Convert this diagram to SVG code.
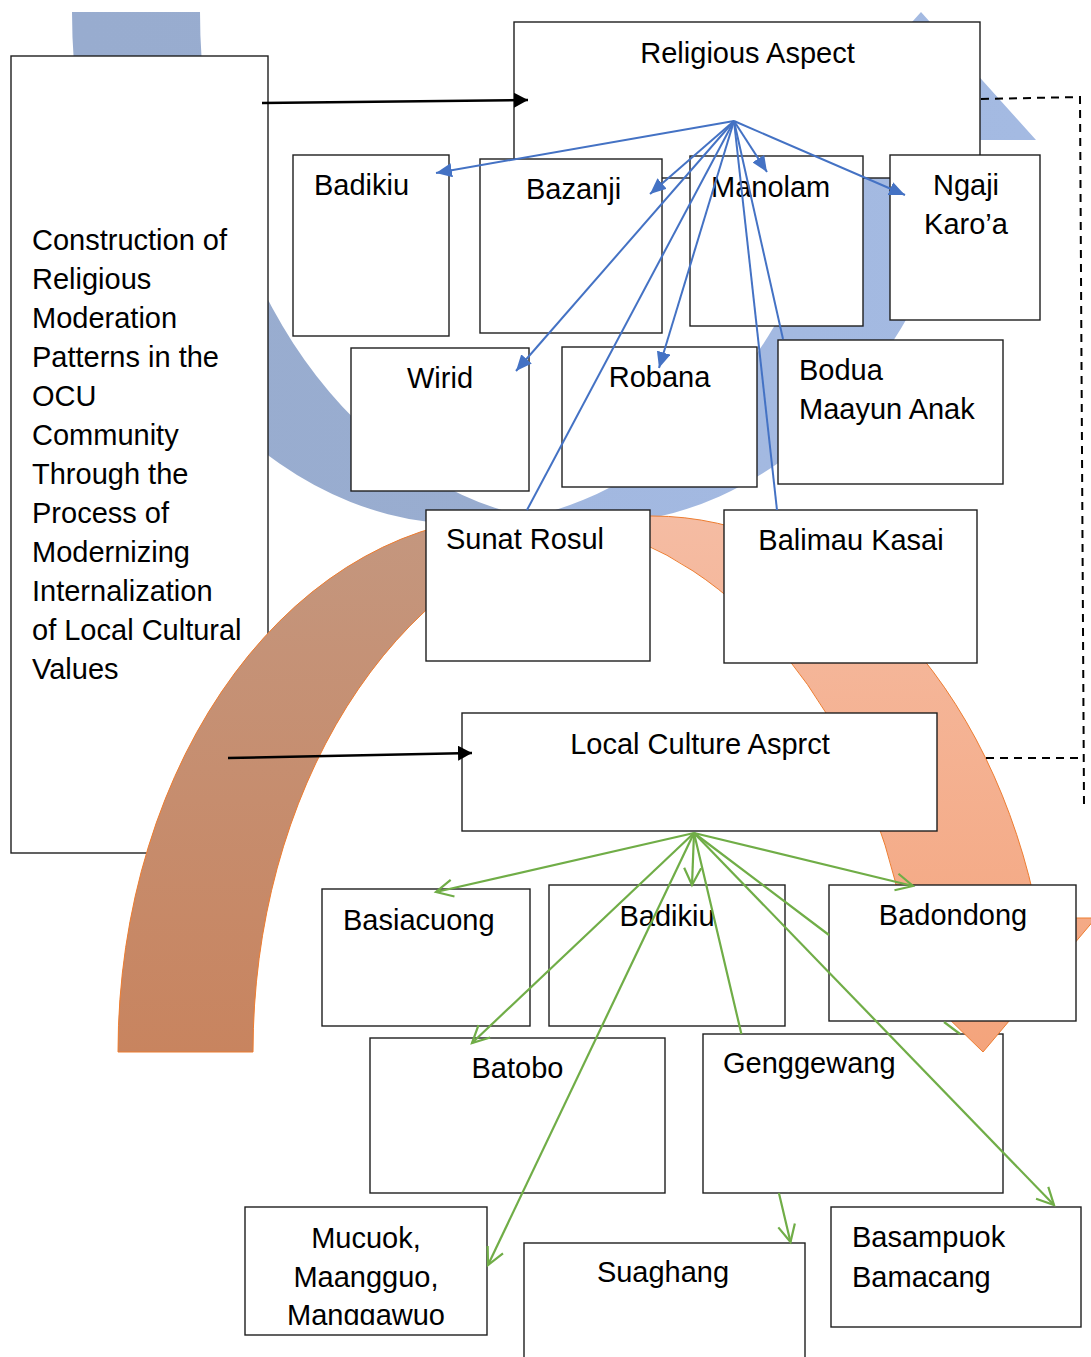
<svg xmlns="http://www.w3.org/2000/svg" width="1091" height="1357" viewBox="0 0 1091 1357">
<defs>
<style>
.box{fill:#fff;stroke:#1e1e1e;stroke-width:1.4}
.t{font-family:"Liberation Sans",Arial,sans-serif;font-size:29px;fill:#000}
.m{text-anchor:middle}
.cb{fill:none;stroke:#4472C4;stroke-width:2}
.cg{fill:none;stroke:#70AD47;stroke-width:2.2}
.ck{fill:none;stroke:#000;stroke-width:2.4}
.cd{fill:none;stroke:#000;stroke-width:2;stroke-dasharray:8 6}
</style>
<linearGradient id="gBlue" gradientUnits="userSpaceOnUse" x1="72" y1="0" x2="1036" y2="0">
<stop offset="0" stop-color="#98ACCF"/><stop offset="0.476" stop-color="#99ADD0"/><stop offset="0.476" stop-color="#A2B8E0"/><stop offset="1" stop-color="#A4BAE2"/>
</linearGradient>
<linearGradient id="gOr" gradientUnits="userSpaceOnUse" x1="0" y1="516" x2="0" y2="1052">
<stop offset="0" stop-color="#F5BCA3"/><stop offset="1" stop-color="#F4A47C"/>
</linearGradient>
<linearGradient id="gOrD" gradientUnits="userSpaceOnUse" x1="0" y1="516" x2="0" y2="1052">
<stop offset="0" stop-color="#C4977F"/><stop offset="1" stop-color="#C8845F"/>
</linearGradient>
<marker id="ab" markerUnits="userSpaceOnUse" viewBox="0 0 18 14" markerWidth="18" markerHeight="14" refX="16" refY="7" orient="auto"><path d="M0,0 L16,7 L0,14 Z" fill="#4472C4"/></marker>
<marker id="ag" markerUnits="userSpaceOnUse" viewBox="0 0 22 20" markerWidth="22" markerHeight="20" refX="19" refY="10" orient="auto" overflow="visible"><path d="M2,1.5 L19,10 L2,18.5" fill="none" stroke="#70AD47" stroke-width="2.2"/></marker>
<marker id="ak" markerUnits="userSpaceOnUse" viewBox="0 0 16 16" markerWidth="16" markerHeight="16" refX="14" refY="7.5" orient="auto"><path d="M0,0 L14,7.5 L0,15 Z" fill="#000"/></marker>
<clipPath id="clipMuc"><rect x="245" y="1207" width="242" height="118"/></clipPath>
</defs>

<g id="blue-curved-arrow">
<path d="M72,12 A392.5,512 0 0 0 464.5,524 L592.5,524 A392.5,512 0 0 0 972.5,140 L1036,140 L921,12 L806,140 L844.5,140 A392.5,512 0 0 1 528.5,517.1 A392.5,512 0 0 1 200,12 Z" fill="url(#gBlue)"/>
</g>

<g id="n-construction">
<rect class="box" x="11" y="56" width="257" height="797"/>
<text class="t" x="32" y="249.5">Construction of</text>
<text class="t" x="32" y="288.5">Religious</text>
<text class="t" x="32" y="327.5">Moderation</text>
<text class="t" x="32" y="366.5">Patterns in the</text>
<text class="t" x="32" y="405.5">OCU</text>
<text class="t" x="32" y="444.5">Community</text>
<text class="t" x="32" y="483.5">Through the</text>
<text class="t" x="32" y="522.5">Process of</text>
<text class="t" x="32" y="561.5">Modernizing</text>
<text class="t" x="32" y="600.5">Internalization</text>
<text class="t" x="32" y="639.5">of Local Cultural</text>
<text class="t" x="32" y="678.5">Values</text>
</g>

<g id="n-genggewang"><rect class="box" x="703" y="1034" width="300" height="159"/><text class="t" x="723" y="1073">Genggewang</text></g>

<g id="orange-curved-arrow">
<path d="M118,1052 A399,536 0 0 1 517,516 L652,516 A399,536 0 0 1 1038.3,918 L1095.8,918 L983,1052 L845.8,918 L903.3,918 A399,536 0 0 0 584.5,523.7 A399,536 0 0 0 253,1052 Z" fill="url(#gOr)"/>
<path d="M118,1052 A399,536 0 0 1 517,516 L584.5,523.7 A399,536 0 0 0 253,1052 Z" fill="url(#gOrD)"/>
<path d="M118,1052 A399,536 0 0 1 517,516 L652,516 A399,536 0 0 1 1038.3,918 L1095.8,918 L983,1052 L845.8,918 L903.3,918 A399,536 0 0 0 584.5,523.7 A399,536 0 0 0 253,1052 Z" fill="none" stroke="#ED7D31" stroke-width="1"/>
</g>

<g id="n-religious"><rect class="box" x="514" y="22" width="466" height="156"/><text class="t m" x="747.5" y="63">Religious Aspect</text></g>
<g id="n-badikiu1"><rect class="box" x="293" y="155" width="156" height="181"/><text class="t" x="314" y="195">Badikiu</text></g>
<g id="n-bazanji"><rect class="box" x="480" y="159" width="182" height="174"/><text class="t" x="526" y="199">Bazanji</text></g>
<g id="n-manolam"><rect class="box" x="690" y="156" width="173" height="170"/><text class="t" x="711" y="197">Manolam</text></g>
<g id="n-ngaji"><rect class="box" x="890" y="155" width="150" height="165"/><text class="t m" x="966" y="195">Ngaji</text><text class="t m" x="966" y="234">Karo’a</text></g>
<g id="n-wirid"><rect class="box" x="351" y="348" width="178" height="143"/><text class="t m" x="440" y="388">Wirid</text></g>
<g id="n-robana"><rect class="box" x="562" y="347" width="195" height="140"/><text class="t m" x="659.5" y="387">Robana</text></g>
<g id="n-bodua"><rect class="box" x="778" y="340" width="225" height="144"/><text class="t" x="799" y="380">Bodua</text><text class="t" x="799" y="418.5">Maayun Anak</text></g>
<g id="n-sunat"><rect class="box" x="426" y="510" width="224" height="151"/><text class="t" x="446" y="549">Sunat Rosul</text></g>
<g id="n-balimau"><rect class="box" x="724" y="510" width="253" height="153"/><text class="t m" x="851" y="550">Balimau Kasai</text></g>
<g id="n-local"><rect class="box" x="462" y="713" width="475" height="118"/><text class="t m" x="700" y="754">Local Culture Asprct</text></g>
<g id="n-basiacuong"><rect class="box" x="322" y="889" width="208" height="137"/><text class="t" x="343" y="930">Basiacuong</text></g>
<g id="n-badikiu2"><rect class="box" x="549" y="885" width="236" height="141"/><text class="t m" x="667" y="926">Badikiu</text></g>
<g id="n-badondong"><rect class="box" x="829" y="885" width="247" height="136"/><text class="t m" x="953" y="925">Badondong</text></g>
<g id="n-batobo"><rect class="box" x="370" y="1038" width="295" height="155"/><text class="t m" x="517.5" y="1078">Batobo</text></g>
<g id="n-mucuok"><rect class="box" x="245" y="1207" width="242" height="128"/>
<g clip-path="url(#clipMuc)"><text class="t m" x="366" y="1248">Mucuok,</text><text class="t m" x="366" y="1287">Maangguo,</text><text class="t m" x="366" y="1325">Manggawuo</text></g></g>
<g id="n-suaghang"><rect class="box" x="524" y="1243" width="281" height="130"/><text class="t m" x="663" y="1282">Suaghang</text></g>
<g id="n-basampuok"><rect class="box" x="831" y="1207" width="250" height="120"/><text class="t" x="852" y="1247">Basampuok</text><text class="t" x="852" y="1287">Bamacang</text></g>

<g id="connectors">
<path class="cd" d="M981,99 L1080,97 L1084,805 M986,758 L1084,758"/>
<path class="ck" d="M262,103 L528,100" marker-end="url(#ak)"/>
<path class="ck" d="M228,758 L472,753" marker-end="url(#ak)"/>
<path class="cb" d="M734,121 L436,173" marker-end="url(#ab)"/>
<path class="cb" d="M734,121 L650,194" marker-end="url(#ab)"/>
<path class="cb" d="M734,121 L767,172" marker-end="url(#ab)"/>
<path class="cb" d="M734,121 L905,195" marker-end="url(#ab)"/>
<path class="cb" d="M734,121 L516,371" marker-end="url(#ab)"/>
<path class="cb" d="M734,121 L659,368" marker-end="url(#ab)"/>
<path class="cb" d="M734,121 L527,510"/>
<path class="cb" d="M734,121 L777,510"/>
<path class="cb" d="M734,121 L783,339"/>
<path class="cg" d="M694,833 L436,892" marker-end="url(#ag)"/>
<path class="cg" d="M694,833 L692,885" marker-end="url(#ag)"/>
<path class="cg" d="M694,833 L913,886" marker-end="url(#ag)"/>
<path class="cg" d="M694,833 L472,1043" marker-end="url(#ag)"/>
<path class="cg" d="M694,833 L488,1265" marker-end="url(#ag)"/>
<path class="cg" d="M694,833 L741.4,1034 M778.9,1193 L790.5,1242" marker-end="url(#ag)"/>
<path class="cg" d="M694,833 L1054,1205" marker-end="url(#ag)"/>
<path class="cg" d="M694,833 L829,935 M944,1022 L960,1034"/>
</g>
</svg>
